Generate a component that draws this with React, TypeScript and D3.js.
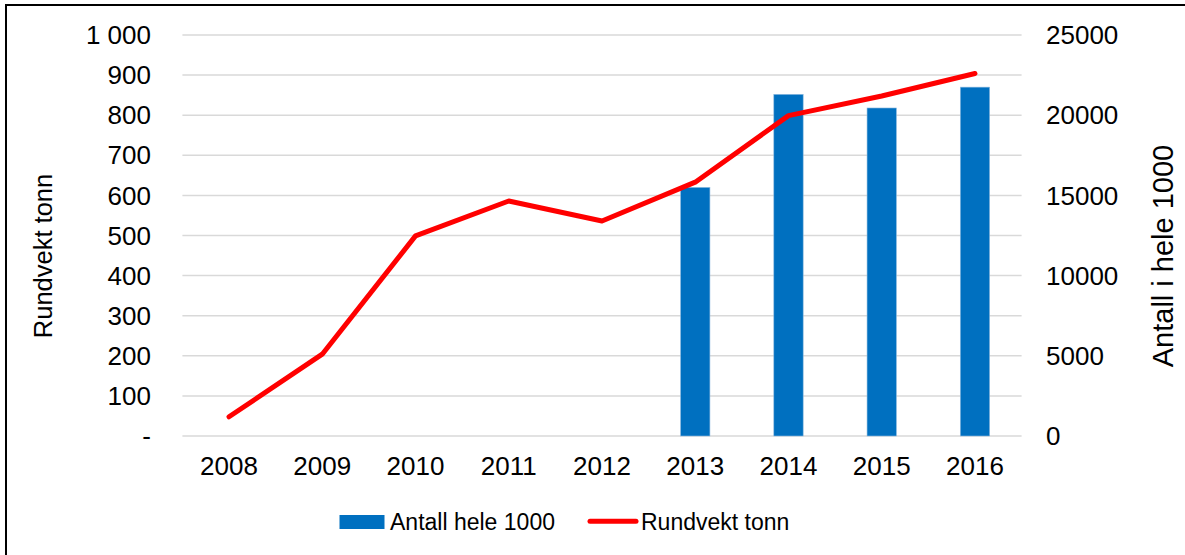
import React from "react";
import * as d3 from "d3";

const years = ["2008", "2009", "2010", "2011", "2012", "2013", "2014", "2015", "2016"];
// Antall hele 1000 (right axis, bars)
const antall = [null, null, null, null, null, 15500, 21300, 20450, 21750];
// Rundvekt tonn (left axis, line)
const rundvekt = [48, 204, 499, 586, 536, 633, 799, 848, 904];

const leftTicks = [0, 100, 200, 300, 400, 500, 600, 700, 800, 900, 1000];
const leftTickLabels = ["-", "100", "200", "300", "400", "500", "600", "700", "800", "900", "1 000"];
const rightTicks = [0, 5000, 10000, 15000, 20000, 25000];

const width = 1185;
const height = 555;
const font = "'Liberation Sans', Arial, sans-serif";

const App = () => {
  const x = d3.scaleBand().domain(years).range([182.4, 1021.6]).padding(0);
  const yL = d3.scaleLinear().domain([0, 1000]).range([436, 35]);
  const yR = d3.scaleLinear().domain([0, 25000]).range([436, 35]);
  const barW = x.bandwidth() * 0.315;

  const line = d3
    .line<number>()
    .x((_, i) => (x(years[i]) as number) + x.bandwidth() / 2)
    .y((d) => yL(d));

  return (
    <svg
      width={width}
      height={height}
      style={{ position: "absolute", left: 0, top: 0, background: "#fff" }}
      fontFamily={font}
    >
      {/* frame */}
      <line x1={5} x2={width} y1={5} y2={5} stroke="#000" strokeWidth={2} />
      <line x1={6} x2={6} y1={5} y2={height} stroke="#000" strokeWidth={2} />

      {/* gridlines */}
      {leftTicks.map((t) => (
        <line key={t} x1={182.4} x2={1021.6} y1={yL(t)} y2={yL(t)} stroke="#d9d9d9" strokeWidth={1.5} />
      ))}

      {/* bars */}
      {antall.map((v, i) =>
        v == null ? null : (
          <rect
            key={years[i]}
            x={(x(years[i]) as number) + x.bandwidth() / 2 - barW / 2}
            y={yR(v)}
            width={barW}
            height={yR(0) - yR(v)}
            fill="#0070C0"
            stroke="#8fbbe0"
            strokeWidth={0.6}
          />
        )
      )}

      {/* line */}
      <path
        d={line(rundvekt) || ""}
        fill="none"
        stroke="#ff0000"
        strokeWidth={5}
        strokeLinecap="round"
        strokeLinejoin="round"
      />

      {/* left ticks */}
      {leftTicks.map((t, i) => (
        <text key={t} x={151} y={yL(t)} dy="0.35em" textAnchor="end" fontSize={26}>
          {leftTickLabels[i]}
        </text>
      ))}

      {/* right ticks */}
      {rightTicks.map((t) => (
        <text key={t} x={1046} y={yR(t)} dy="0.35em" textAnchor="start" fontSize={26}>
          {t}
        </text>
      ))}

      {/* x labels */}
      {years.map((yr) => (
        <text key={yr} x={(x(yr) as number) + x.bandwidth() / 2} y={475} textAnchor="middle" fontSize={26}>
          {yr}
        </text>
      ))}

      {/* axis titles */}
      <text transform="translate(51.5,256) rotate(-90)" textAnchor="middle" fontSize={25.5}>
        Rundvekt tonn
      </text>
      <text transform="translate(1172.5,256) rotate(-90)" textAnchor="middle" fontSize={29}>
        Antall i hele 1000
      </text>

      {/* legend */}
      <rect x={339.5} y={515} width={45} height={14} fill="#0070C0" />
      <text x={390} y={529.5} fontSize={23}>
        Antall hele 1000
      </text>
      <line x1={590} x2={636} y1={521.3} y2={521.3} stroke="#ff0000" strokeWidth={5} strokeLinecap="round" />
      <text x={641} y={529.5} fontSize={23}>
        Rundvekt tonn
      </text>
    </svg>
  );
};

export default App;
